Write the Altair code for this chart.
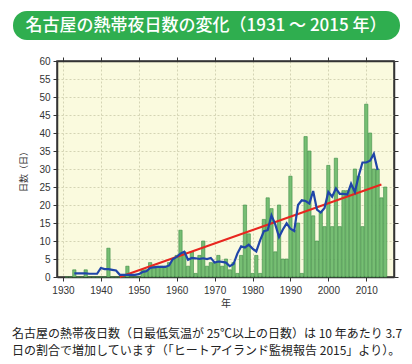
import altair as alt
import pandas as pd

# ---- data ----
years = list(range(1931, 2016))
nights = [0, 0, 2, 0, 0, 2, 0, 0, 0, 0,
          0, 8, 0, 0, 0, 0, 3, 0, 0, 0,
          2, 2, 4, 3, 3, 3, 3, 4, 5, 6,
          13, 7, 3, 7, 1, 6, 10, 3, 4, 4,
          6, 3, 5, 2, 4, 1, 6, 20, 12, 1,
          6, 1, 16, 22, 19, 7, 20, 5, 5, 28,
          13, 15, 1, 39, 35, 17, 10, 18, 14, 31,
          14, 33, 14, 24, 24, 25, 30, 28, 14, 48,
          40, 30, 30, 22, 25]

ma_years = list(range(1933, 2014))
ma_values = [1.0, 1.0, 1.0, 1.0, 0.9, 0.9, 0.9, 2.5, 2.2, 2.2,
             2.0, 1.8, 0.6, 0.6, 0.6, 0.6, 0.6, 0.8, 1.4, 1.6,
             2.5, 2.7, 2.8, 2.8, 2.8, 3.2, 5.0, 5.6, 6.5, 7.0,
             4.8, 5.3, 5.2, 5.0, 5.2, 5.0, 5.3, 4.0, 4.3, 4.2,
             4.0, 3.0, 3.6, 6.5, 8.5, 8.2, 9.0, 7.9, 7.1, 10.2,
             12.7, 13.0, 17.1, 14.6, 11.1, 13.2, 14.9, 13.4, 12.8, 20.0,
             21.3, 21.1, 20.4, 23.9, 18.7, 17.9, 19.2, 23.6, 22.3, 24.6,
             23.1, 23.1, 22.9, 25.9, 23.6, 28.1, 31.8, 31.8, 32.3, 34.2,
             29.7]

trend_years = [1945, 2014]
trend_values = [0.0, 25.7]

x_ticks = [1930, 1940, 1950, 1960, 1970, 1980, 1990, 2000, 2010]
y_ticks = list(range(0, 61, 5))

title_text = "名古屋の熱帯夜日数の変化（1931 ～ 2015 年）"
caption_lines = ["名古屋の熱帯夜日数（日最低気温が 25℃以上の日数）は 10 年あたり 3.7",
                 "日の割合で増加しています（「ヒートアイランド監視報告 2015」より）。"]

bars_df = pd.DataFrame({"year": years, "days": nights})
ma_df = pd.DataFrame({"year": ma_years, "days": ma_values})
trend_df = pd.DataFrame({"year": trend_years, "days": trend_values})

W, H = 337, 216
xscale = alt.Scale(domain=[1929.75, 2016], nice=False, zero=False)
yscale = alt.Scale(domain=[0, 60], nice=False)

num_font = "Liberation Sans"
jp_font = "Noto Sans CJK JP"

bars = alt.Chart(bars_df).mark_bar(
    size=3.3, fill="#76be73", stroke="#3d8c44", strokeWidth=0.6
).encode(
    x=alt.X("year:Q", scale=xscale,
            axis=alt.Axis(values=x_ticks, format="d", title="年", orient="bottom",
                          labelFont=num_font, labelFontSize=10, labelColor="#333",
                          titleFont=jp_font, titleFontSize=10, titleFontWeight="normal",
                          titleColor="#333", titlePadding=3, labelPadding=4,
                          tickSize=4, tickColor="#333", domainColor="#333", domainWidth=1.5,
                          grid=True, gridColor="#d4d4b4", gridDash=[2, 2], gridWidth=1)),
    y=alt.Y("days:Q", scale=yscale,
            axis=alt.Axis(values=y_ticks, title="日数（日）", orient="left",
                          labelFont=num_font, labelFontSize=10, labelColor="#333",
                          titleFont=jp_font, titleFontSize=9, titleFontWeight="normal",
                          titleColor="#333", titlePadding=10, labelPadding=3,
                          tickSize=4, tickColor="#333", domainColor="#333", domainWidth=1.5,
                          grid=True, gridColor="#d4d4b4", gridDash=[2, 2], gridWidth=1)),
)

trend = alt.Chart(trend_df).mark_line(color="#e8261f", strokeWidth=2).encode(
    x=alt.X("year:Q", scale=xscale,
            axis=alt.Axis(values=x_ticks, orient="top", labels=False, title="",
                          tickSize=4, tickColor="#333", domainColor="#333", domainWidth=1.5,
                          grid=False)),
    y=alt.Y("days:Q", scale=yscale,
            axis=alt.Axis(values=y_ticks, orient="right", labels=False, title="",
                          tickSize=4, tickColor="#333", domainColor="#333", domainWidth=1.5,
                          grid=False)),
)

ma = alt.Chart(ma_df).mark_line(color="#1f45a8", strokeWidth=2.2).encode(
    x=alt.X("year:Q", scale=xscale, axis=None),
    y=alt.Y("days:Q", scale=yscale, axis=None),
)

one = alt.datum.year == 1931

banner = alt.Chart(bars_df).mark_rect(
    color="#2fae4f", cornerRadius=14
).encode(
    x=alt.value(-44), x2=alt.value(343), y=alt.value(-50), y2=alt.value(-21)
).transform_filter(one)

banner_text = alt.Chart(bars_df).mark_text(
    text=title_text, font=jp_font, fontSize=17, fontWeight=500, color="white",
    align="center", baseline="middle"
).encode(x=alt.value(149), y=alt.value(-35)).transform_filter(one)

cap1 = alt.Chart(bars_df).mark_text(
    text=caption_lines[0], font=jp_font, fontSize=12, color="#222",
    align="left", baseline="middle"
).encode(x=alt.value(-45), y=alt.value(273)).transform_filter(one)

cap2 = alt.Chart(bars_df).mark_text(
    text=caption_lines[1], font=jp_font, fontSize=12, color="#222",
    align="left", baseline="middle"
).encode(x=alt.value(-45), y=alt.value(290)).transform_filter(one)

chart = alt.layer(bars, trend, ma, banner, banner_text, cap1, cap2).resolve_axis(
    x="independent", y="independent"
).properties(
    width=W, height=H,
    padding={"left": 49, "top": 53, "right": 10, "bottom": 87},
    autosize=alt.AutoSizeParams(type="none"),
    background="white",
).configure_view(
    fill="#fafade", stroke="#333", strokeWidth=1.5
)

chart.save("out.html", embed_options={"renderer": "svg", "actions": False})
